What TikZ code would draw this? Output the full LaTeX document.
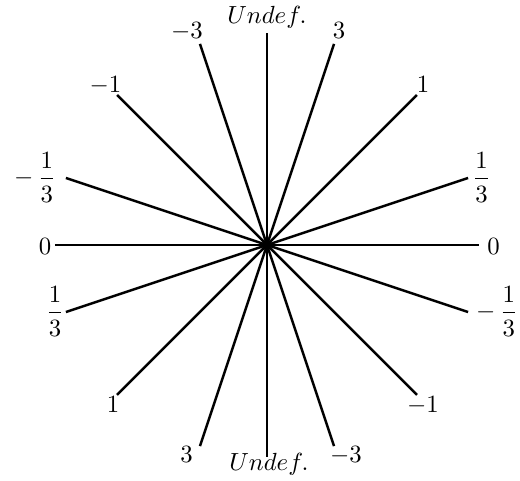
\documentclass[tikz,border=0pt]{standalone}
\usepackage{amsmath}
\begin{document}
\begin{tikzpicture}[x=0.4032pt,y=0.4032pt,
  ray/.style={line width=1pt},
  lab/.style={anchor=base,inner sep=0pt}]
\useasboundingbox (-267,-236) rectangle (253,245);
\coordinate (O) at (0,0);
\foreach \a/\n in {0/a,18.435/b,45/c,71.565/d,90/e,108.435/f,135/g,161.565/h}{
  \coordinate (p\n) at (\a:212);
  \coordinate (q\n) at (\a+180:212);
  \draw[ray] (q\n) -- (p\n);
}
% labels
\node[lab] (ltop) at (0,221) {$Undef.$};
\node[lab] (lbot) at (2,-226) {$Undef.$};
\node[lab] (l3a) at (72,206) {$3$};
\node[lab] (lm3a) at (-80,206) {$-3$};
\node[lab] (l1a) at (156,152) {$1$};
\node[lab] (lm1a) at (-161.5,152) {$-1$};
\node[lab] (lfa) at (214.5,60) {$\dfrac{1}{3}$};
\node[lab] (lmfa) at (-232,60) {$-\,\dfrac{1}{3}$};
\node[lab] (l0a) at (-222,-10) {$0$};
\node[lab] (l0b) at (226.5,-10) {$0$};
\node[lab] (lfb) at (-212,-74) {$\dfrac{1}{3}$};
\node[lab] (lmfb) at (230,-74) {$-\,\dfrac{1}{3}$};
\node[lab] (l1b) at (-154,-168) {$1$};
\node[lab] (lm1b) at (156,-168) {$-1$};
\node[lab] (l3b) at (-80.5,-218) {$3$};
\node[lab] (lm3b) at (79,-218) {$-3$};
\end{tikzpicture}
\end{document}
